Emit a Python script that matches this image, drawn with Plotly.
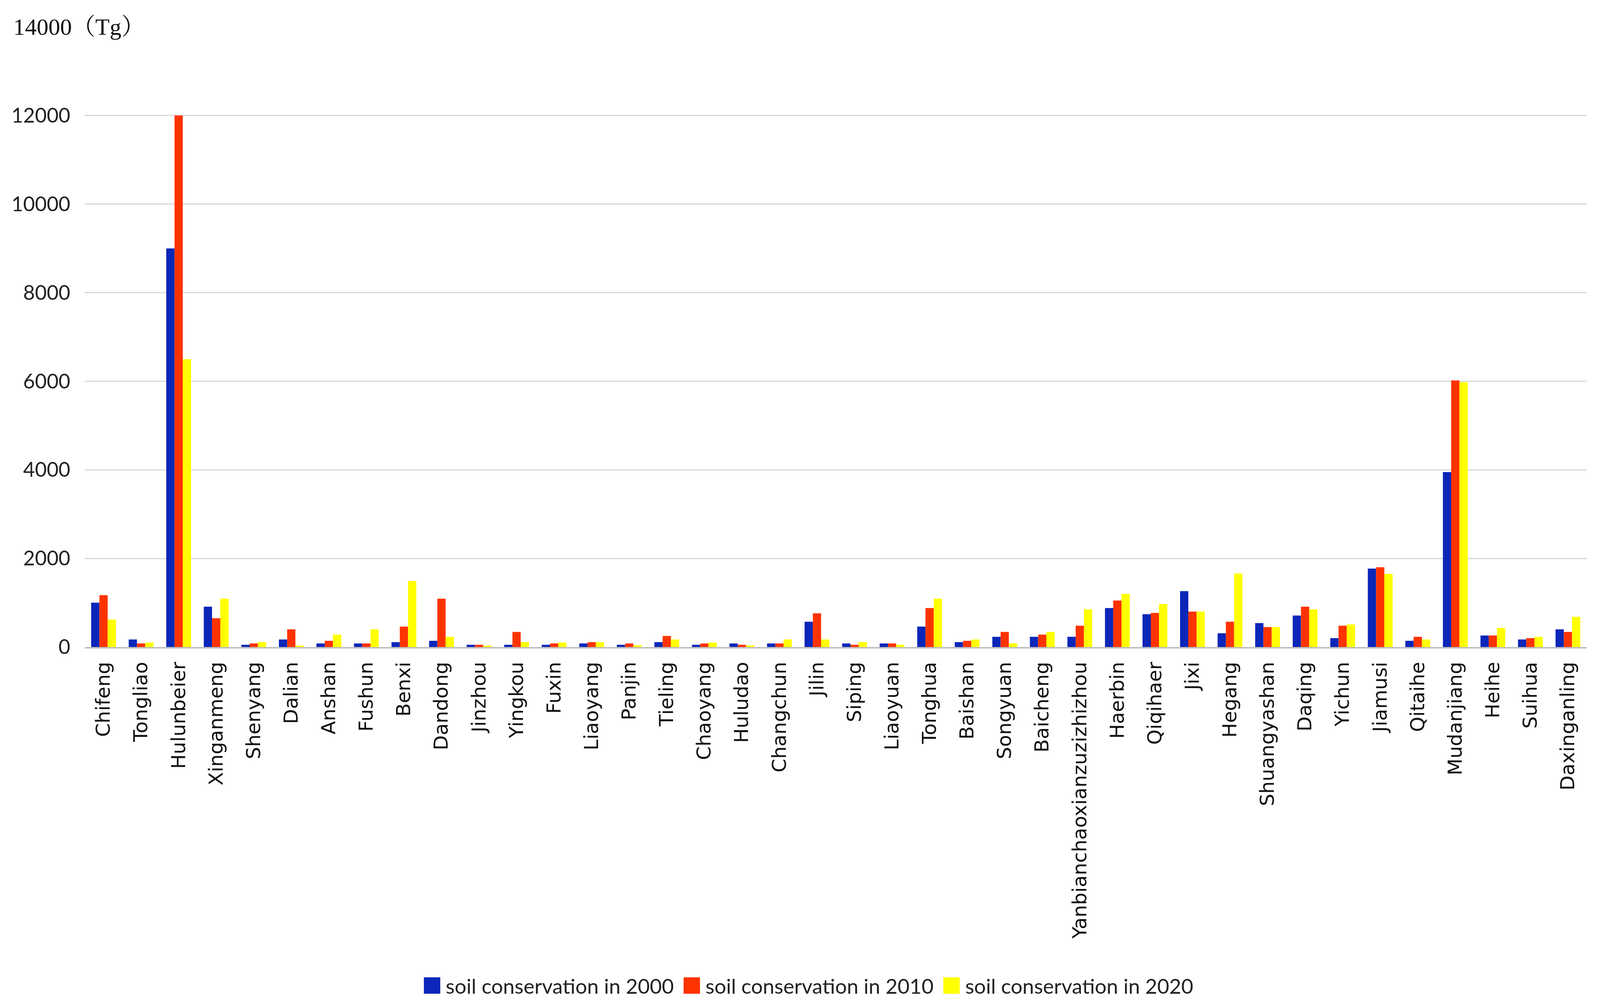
import plotly.graph_objects as go

cities = ["Chifeng", "Tongliao", "Hulunbeier", "Xinganmeng", "Shenyang", "Dalian", "Anshan",
          "Fushun", "Benxi", "Dandong", "Jinzhou", "Yingkou", "Fuxin", "Liaoyang", "Panjin",
          "Tieling", "Chaoyang", "Huludao", "Changchun", "Jilin", "Siping", "Liaoyuan",
          "Tonghua", "Baishan", "Songyuan", "Baicheng", "Yanbianchaoxianzuzizhizhou",
          "Haerbin", "Qiqihaer", "Jixi", "Hegang", "Shuangyashan", "Daqing", "Yichun",
          "Jiamusi", "Qitaihe", "Mudanjiang", "Heihe", "Suihua", "Daxinganling"]

soil_2000 = [1000, 170, 9000, 910, 50, 170, 80, 80, 110, 140, 50, 50, 50, 80, 50, 110, 50, 80,
             80, 570, 80, 80, 460, 110, 230, 230, 230, 880, 740, 1260, 310, 540, 710, 200,
             1770, 140, 3950, 260, 170, 400]
soil_2010 = [1170, 80, 12000, 650, 80, 400, 140, 80, 460, 1090, 50, 340, 80, 110, 80, 250, 80,
             50, 80, 760, 50, 80, 880, 140, 340, 280, 480, 1050, 770, 800, 570, 450, 910, 480,
             1800, 230, 6020, 260, 200, 340]
soil_2020 = [620, 100, 6500, 1090, 110, 30, 280, 400, 1490, 230, 30, 110, 100, 110, 40, 170,
             100, 35, 170, 170, 110, 50, 1090, 170, 80, 340, 850, 1200, 970, 800, 1660, 450,
             850, 510, 1650, 170, 5980, 430, 230, 680]

series_names = ["soil conservation in 2000", "soil conservation in 2010", "soil conservation in 2020"]
series_values = [soil_2000, soil_2010, soil_2020]
series_colors = ["#0b26b8", "#ff3300", "#ffff00"]

y_ticks = [0, 2000, 4000, 6000, 8000, 10000, 12000, 14000]
y_ticktext = ["0", "2000", "4000", "6000", "8000", "10000", "12000", ""]
top_label = "14000（Tg）"

fig = go.Figure()
for name, vals, col in zip(series_names, series_values, series_colors):
    fig.add_trace(go.Bar(x=cities, y=vals, name=name, marker=dict(color=col, line=dict(width=0))))

fig.update_layout(
    width=4096, height=2579, autosize=False,
    paper_bgcolor="white", plot_bgcolor="white",
    margin=dict(l=217, r=34, t=69, b=922),
    barmode="group", bargap=0.34, bargroupgap=0,
    font=dict(family="Lato, Open Sans, sans-serif", color="#222222"),
    showlegend=True,
    legend=dict(orientation="h", x=0.48, xanchor="center", y=-0.546, yanchor="middle",
                font=dict(family="Lato, sans-serif", size=53, color="#222222"),
                itemwidth=66, tracegroupgap=0, bgcolor="rgba(0,0,0,0)"),
)

fig.update_xaxes(
    tickangle=-90, tickfont=dict(family="DejaVu Sans, Verdana, sans-serif", size=50, color="#111111"),
    showline=True, linecolor="#bfbfbf", linewidth=4, showgrid=False,
    ticks="outside", ticklen=14, tickcolor="rgba(0,0,0,0)",
)
fig.update_yaxes(
    range=[0, 14000], tickvals=y_ticks, ticktext=y_ticktext,
    tickfont=dict(family="Lato, sans-serif", size=52, color="#222222"),
    showgrid=True, gridcolor="#d9d9d9", gridwidth=3, zeroline=False, showline=False,
    ticks="", ticklabelstandoff=36,
)

fig.add_annotation(
    x=-0.0481, xref="paper", xanchor="left", y=14000, yref="y", yanchor="middle",
    text=top_label, showarrow=False, bgcolor="white",
    font=dict(family="Liberation Serif, Noto Serif CJK SC, serif", size=60, color="#111111"),
)

post = """
document.documentElement.style.margin='0';document.body.style.margin='0';
document.documentElement.style.overflow='hidden';document.body.style.overflow='hidden';
var gd=document.getElementById('{plot_id}');
gd.querySelectorAll('.legend .legendpoints path').forEach(function(p){
  var t=p.getAttribute('transform')||'';
  p.setAttribute('transform', t+' translate(3,0) scale(3.5)');
});
"""

fig.write_html("out.html", config={"displayModeBar": False}, post_script=post)
